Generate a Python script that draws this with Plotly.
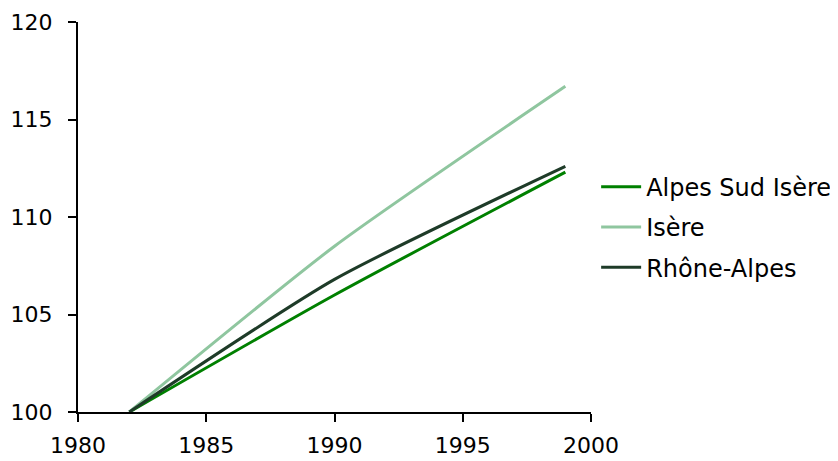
import plotly.graph_objects as go

years = [1982, 1990, 1999]
alpes_sud_isere = [100, 106.0, 112.3]
isere = [100, 108.5, 116.7]
rhone_alpes = [100, 106.8, 112.6]

series = [
    ("Alpes Sud Isère", alpes_sud_isere, "#008000"),
    ("Isère", isere, "#8FC69F"),
    ("Rhône-Alpes", rhone_alpes, "#1E3B28"),
]

fig = go.Figure()
for i, (name, vals, col) in enumerate(series):
    fig.add_trace(go.Scatter(
        x=years, y=vals, name=name, mode="lines",
        line=dict(color=col, width=3, shape="spline", smoothing=0.6),
        legendgroup=f"g{i}",
    ))

axis_common = dict(
    showgrid=False, zeroline=False, showline=True, linecolor="black", linewidth=2,
    ticks="outside", ticklen=8, tickwidth=1.5, tickcolor="black", automargin=False,
    tickfont=dict(family="DejaVu Sans", size=22, color="black"),
)
fig.update_xaxes(range=[1980, 2000], tickvals=[1980, 1985, 1990, 1995, 2000],
                 ticklabelstandoff=5, **axis_common)
fig.update_yaxes(range=[100, 120], tickvals=[100, 105, 110, 115, 120],
                 ticklabelstandoff=11, **axis_common)

fig.update_layout(
    width=838, height=461,
    margin=dict(l=70, r=255, t=14, b=57, autoexpand=False),
    paper_bgcolor="white", plot_bgcolor="white",
    showlegend=True,
    legend=dict(x=1.01, xanchor="left", y=0.474, yanchor="middle",
                font=dict(family="DejaVu Sans", size=24, color="black"),
                itemwidth=40,
                tracegroupgap=6, bgcolor="rgba(0,0,0,0)"),
)
fig.write_html("out.html")
